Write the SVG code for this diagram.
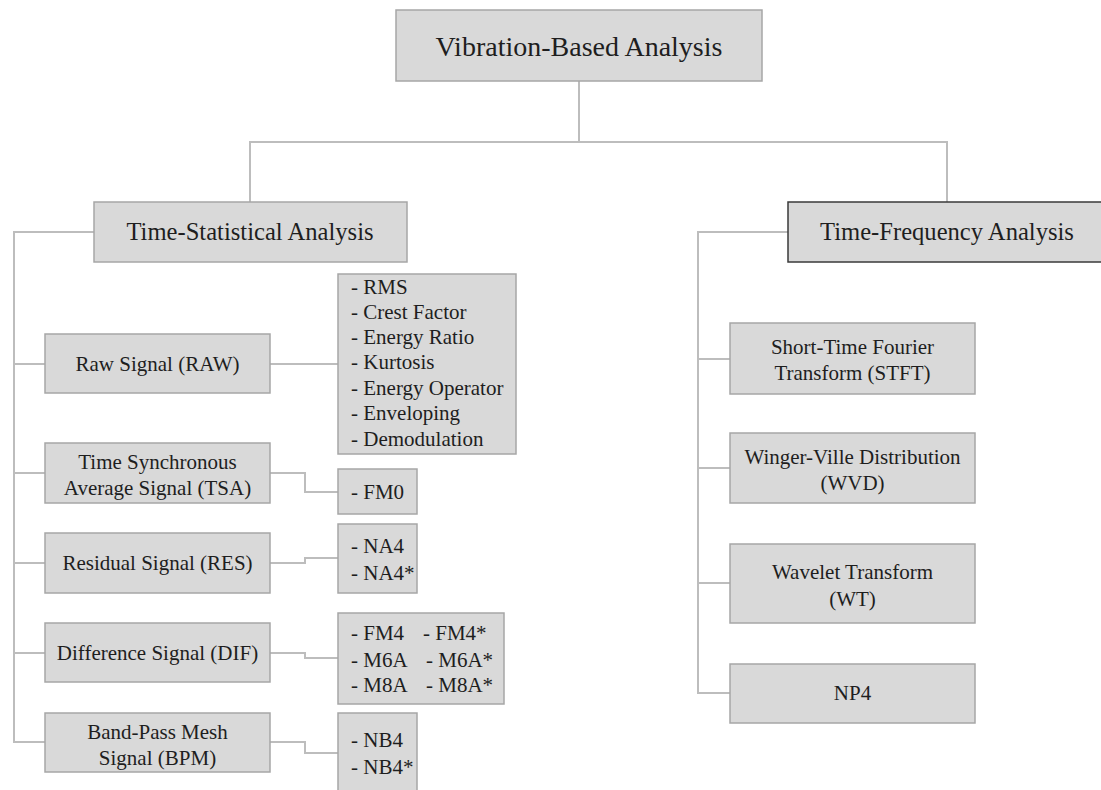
<svg xmlns="http://www.w3.org/2000/svg" width="1101" height="790" viewBox="0 0 1101 790">
<style>
.box{fill:#d9d9d9;stroke:#a6a6a6;stroke-width:1.5}
.dark{fill:#d9d9d9;stroke:#3a3a3a;stroke-width:1.5}
.c{fill:none;stroke:#bdbdbd;stroke-width:2}
text{font-family:'Liberation Serif','Tinos','Times New Roman','DejaVu Serif',serif;fill:#1e1e1e}
.t27{font-size:28px;text-anchor:middle}
.t24{font-size:24.6px;text-anchor:middle}
.t21{font-size:21px;text-anchor:middle}
.l21{font-size:21px}
</style>
<rect width="1101" height="790" fill="#ffffff"/>
<g id="connectors">
<path class="c" d="M579,81V142M250,202V142H947V202"/>
<path class="c" d="M94,232H14V742H45M14,364H45M14,473H45M14,563H45M14,653H45"/>
<path class="c" d="M270,364H338"/>
<path class="c" d="M270,473H305V492H338"/>
<path class="c" d="M270,563H305V558H338"/>
<path class="c" d="M270,653H305V658H338"/>
<path class="c" d="M270,742H305V753H338"/>
<path class="c" d="M788,232H698V693H730M698,359H730M698,468H730M698,583H730"/>
</g>
<g id="root"><rect class="box" x="396" y="10" width="366" height="71"/><text class="t27" x="579" y="55.5">Vibration-Based Analysis</text></g>
<g id="time-statistical"><rect class="box" x="94" y="202" width="313" height="60"/><text class="t24" x="250" y="240">Time-Statistical Analysis</text></g>
<g id="time-frequency"><rect class="dark" x="788" y="202" width="318" height="60"/><text class="t24" x="947" y="240">Time-Frequency Analysis</text></g>
<g id="raw"><rect class="box" x="45" y="334" width="225" height="59"/><text class="t21" x="157.5" y="371">Raw Signal (RAW)</text></g>
<g id="tsa"><rect class="box" x="45" y="443" width="225" height="60"/><text class="t21" x="157.5" y="469">Time Synchronous</text><text class="t21" x="157.5" y="495">Average Signal (TSA)</text></g>
<g id="res"><rect class="box" x="45" y="533" width="225" height="60"/><text class="t21" x="157.5" y="570">Residual Signal (RES)</text></g>
<g id="dif"><rect class="box" x="45" y="623" width="225" height="59"/><text class="t21" x="157.5" y="660">Difference Signal (DIF)</text></g>
<g id="bpm"><rect class="box" x="45" y="713" width="225" height="59"/><text class="t21" x="157.5" y="739">Band-Pass Mesh</text><text class="t21" x="157.5" y="765">Signal (BPM)</text></g>
<g id="raw-features"><rect class="box" x="338" y="274" width="178" height="180"/>
<text class="l21" x="351" y="294">- RMS</text>
<text class="l21" x="351" y="319">- Crest Factor</text>
<text class="l21" x="351" y="344">- Energy Ratio</text>
<text class="l21" x="351" y="369">- Kurtosis</text>
<text class="l21" x="351" y="395">- Energy Operator</text>
<text class="l21" x="351" y="420">- Enveloping</text>
<text class="l21" x="351" y="446">- Demodulation</text></g>
<g id="tsa-features"><rect class="box" x="338" y="469" width="79" height="45"/><text class="l21" x="351" y="499">- FM0</text></g>
<g id="res-features"><rect class="box" x="338" y="524" width="79" height="69"/><text class="l21" x="351" y="553">- NA4</text><text class="l21" x="351" y="580">- NA4*</text></g>
<g id="dif-features"><rect class="box" x="338" y="613" width="166" height="91"/>
<text class="l21" x="351" y="640">- FM4</text><text class="l21" x="423" y="640">- FM4*</text>
<text class="l21" x="351" y="667">- M6A</text><text class="l21" x="426" y="667">- M6A*</text>
<text class="l21" x="351" y="692">- M8A</text><text class="l21" x="426" y="692">- M8A*</text></g>
<g id="bpm-features"><rect class="box" x="338" y="713" width="79" height="90"/><text class="l21" x="351" y="747">- NB4</text><text class="l21" x="351" y="774">- NB4*</text></g>
<g id="stft"><rect class="box" x="730" y="323" width="245" height="71"/><text class="t21" x="852.5" y="354">Short-Time Fourier</text><text class="t21" x="852.5" y="380">Transform (STFT)</text></g>
<g id="wvd"><rect class="box" x="730" y="433" width="245" height="70"/><text class="t21" x="852.5" y="464">Winger-Ville Distribution</text><text class="t21" x="852.5" y="490">(WVD)</text></g>
<g id="wt"><rect class="box" x="730" y="544" width="245" height="79"/><text class="t21" x="852.5" y="579">Wavelet Transform</text><text class="t21" x="852.5" y="606">(WT)</text></g>
<g id="np4"><rect class="box" x="730" y="664" width="245" height="59"/><text class="t21" x="852.5" y="700">NP4</text></g>
</svg>
